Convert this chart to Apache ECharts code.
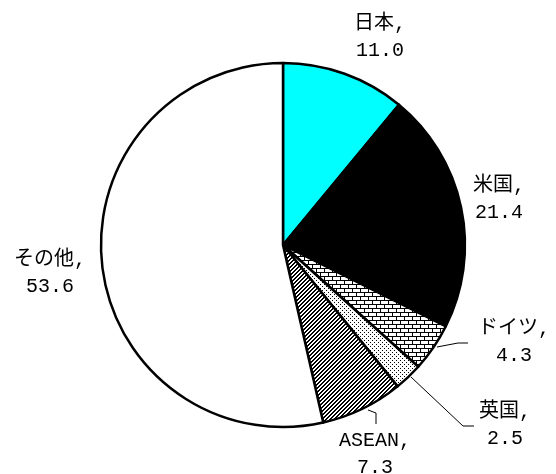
<!DOCTYPE html>
<html>
<head>
<meta charset="utf-8">
<script src="https://cdn.jsdelivr.net/npm/echarts@6/dist/echarts.min.js"></script>
<style>
html,body{margin:0;padding:0;background:#fff;}
#main{width:556px;height:474px;}
</style>
</head>
<body>
<div id="main"></div>
<script>
const categories = ['日本', '米国', 'ドイツ', '英国', 'ASEAN', 'その他'];
const values = [11.0, 21.4, 4.3, 2.5, 7.3, 53.6];

function makePattern(w, h, fn) {
  const c = document.createElement('canvas');
  c.width = w; c.height = h;
  const ctx = c.getContext('2d');
  ctx.fillStyle = '#fff';
  ctx.fillRect(0, 0, w, h);
  ctx.fillStyle = '#000';
  for (let y = 0; y < h; y++) for (let x = 0; x < w; x++) if (fn(x, y)) ctx.fillRect(x, y, 1, 1);
  return { image: c, repeat: 'repeat' };
}
const brick = makePattern(8, 8, (x, y) => y === 0 || y === 4 || (y < 4 && x === 0) || (y > 4 && x === 4));
const dots = makePattern(4, 4, (x, y) => (x === 0 && y === 0) || (x === 2 && y === 2));
const hatch = makePattern(4, 4, (x, y) => ((x + y) % 4) < 2);

const fills = ['#00FFFF', '#000000', brick, dots, hatch, '#FFFFFF'];
const showLine = [false, false, true, true, true, false];

const labelPos = [
  { x: 380, y: 37 },
  { x: 499, y: 199 },
  { x: 514, y: 342, line: [[437, 347], [458, 343], [468, 343]] },
  { x: 505, y: 425, line: [[411, 377], [463, 426], [474, 426]] },
  { x: 375, y: 454, line: [[368, 410], [376, 413], [376, 424]] },
  { x: 50, y: 273 }
];

const chart = echarts.init(document.getElementById('main'), null, { renderer: 'canvas' });
chart.setOption({
  animation: false,
  backgroundColor: '#fff',
  series: [{
    type: 'pie',
    center: [283, 245],
    radius: 182,
    startAngle: 90,
    clockwise: true,
    avoidLabelOverlap: false,
    itemStyle: { borderColor: '#000', borderWidth: 2.5 },
    emphasis: { disabled: true },
    label: {
      show: true,
      position: 'outside',
      color: '#000',
      fontSize: 20,
      lineHeight: 27,
      fontFamily: "'Liberation Mono','Noto Sans CJK JP'",
      align: 'center',
      formatter: p => p.name + ',\n' + values[p.dataIndex].toFixed(1)
    },
    labelLine: { lineStyle: { color: '#000', width: 1 }, length: 10, length2: 10 },
    labelLayout: p => {
      const L = labelPos[p.dataIndex];
      const o = { x: L.x, y: L.y, align: 'center', verticalAlign: 'middle' };
      if (L.line) o.labelLinePoints = L.line;
      return o;
    },
    data: categories.map((n, i) => ({
      name: n,
      value: values[i],
      itemStyle: { color: fills[i] },
      labelLine: { show: showLine[i] }
    }))
  }]
});
</script>
</body>
</html>
